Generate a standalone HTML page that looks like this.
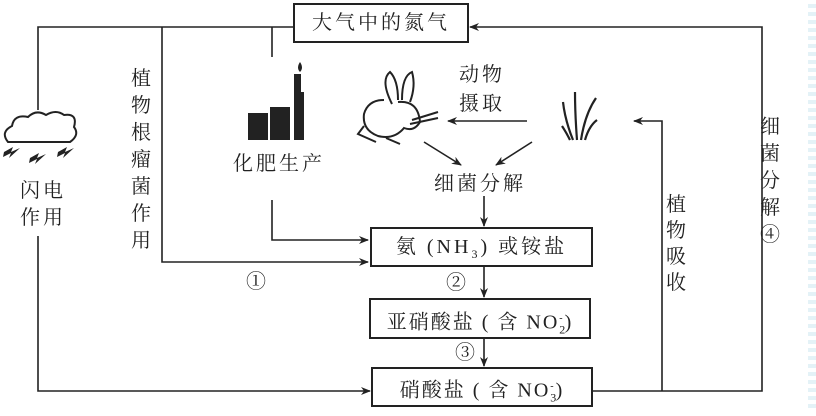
<!DOCTYPE html>
<html><head><meta charset="utf-8"><style>
body{margin:0;background:#fff;width:816px;height:411px;overflow:hidden;position:relative;font-family:"Liberation Serif","Noto Serif CJK SC","Noto Sans CJK SC",serif;color:#222}
.t{position:absolute;font-size:20px;line-height:20px;white-space:nowrap;letter-spacing:3px}
.v{position:absolute;font-size:20px;width:22px;text-align:center}
.box{position:absolute;border:2px solid #222;box-sizing:border-box;text-align:center;font-size:20px;background:#fff;letter-spacing:3px}
</style></head><body>
<svg width="816" height="411" style="position:absolute;left:0;top:0">
<defs><marker id="a" markerWidth="10" markerHeight="8" refX="9" refY="4" orient="auto" markerUnits="userSpaceOnUse"><path d="M0,0 L10,4 L0,8 L3,4z" fill="#222"/></marker></defs>
<g stroke="#222" stroke-width="1.6" fill="none">
<path d="M294,27 H38 V110"/>
<path d="M162,27 V262 H368" marker-end="url(#a)"/>
<path d="M272,27 V57"/>
<path d="M272,200 V240 H368" marker-end="url(#a)"/>
<path d="M38,236 V391 H370" marker-end="url(#a)"/>
<path d="M592,391 H762 V27 H470" marker-end="url(#a)"/>
<path d="M662,391 V121 H634" marker-end="url(#a)"/>
<path d="M527,121 H448" marker-end="url(#a)"/>
<path d="M424,142 L461,165" marker-end="url(#a)"/>
<path d="M532,142 L496,165" marker-end="url(#a)"/>
<path d="M484,196 V226" marker-end="url(#a)"/>
<path d="M484,266 V297" marker-end="url(#a)"/>
<path d="M484,338 V366" marker-end="url(#a)"/>
</g>
<path d="M8,142 q-8,-10 4,-16 q2,-12 16,-9 q8,-8 18,-2 q10,-6 18,0 q14,-2 10,12 q6,8 -4,15 z" fill="#fff" stroke="#222" stroke-width="2"/>
<g fill="#222"><path d="M4,152 l9,-5 l-2,5 l9,-4 l-11,10 l2,-5 l-8,4z"/><path d="M30,158 l9,-5 l-2,5 l9,-4 l-11,10 l2,-5 l-8,4z"/><path d="M58,152 l9,-5 l-2,5 l9,-4 l-11,10 l2,-5 l-8,4z"/></g>
<g fill="#222"><rect x="248" y="113" width="20" height="27"/><rect x="270" y="107" width="20" height="33"/><path d="M294,74 h7 v18 h3 v48 h-10z"/><path d="M300,62 q-4,6 0,10 q4,-4 0,-10z"/></g>
<g fill="none" stroke="#222" stroke-width="2">
<path d="M392,104 q-12,-24 -2,-32 q8,8 8,28"/><path d="M402,100 q0,-24 10,-28 q4,14 -2,30"/>
<path d="M398,102 q20,-2 22,20 q-6,10 -16,6 q-10,12 -26,8 q-16,-6 -14,-22 q4,-14 20,-14"/>
<path d="M364,126 l-6,8 l18,8"/><path d="M412,120 l26,-8 M410,124 l28,-6"/><path d="M386,138 l14,6"/>
</g>
<g fill="none" stroke="#222" stroke-width="2.2">
<path d="M573,140 q-8,-20 -10,-38"/><path d="M577,140 q-2,-26 -2,-48"/><path d="M581,140 q4,-26 15,-42"/><path d="M585,140 q4,-14 12,-20"/><path d="M570,140 q-4,-8 -8,-14"/>
</g>
</svg>
<div class="box" style="left:293px;top:3px;width:176px;height:40px;line-height:36px">大气中的氮气</div>
<div class="box" style="left:370px;top:227px;width:223px;height:40px;line-height:36px">氨 (NH<sub style="font-size:12px">3</sub>) 或铵盐</div>
<div class="box" style="left:369px;top:298px;width:222px;height:41px;line-height:37px;letter-spacing:2px">亚硝酸盐 ( 含 NO<sub style="font-size:12px">2</sub><sup style="font-size:10px;margin-left:-8px">-</sup>)</div>
<div class="box" style="left:371px;top:367px;width:222px;height:40px;line-height:36px;letter-spacing:2px">硝酸盐 ( 含 NO<sub style="font-size:12px">3</sub><sup style="font-size:10px;margin-left:-8px">-</sup>)</div>
<div class="t" style="left:233px;top:154px">化肥生产</div>
<div class="t" style="left:459px;top:65px">动物</div>
<div class="t" style="left:459px;top:94px">摄取</div>
<div class="t" style="left:434px;top:174px">细菌分解</div>
<div class="v" style="left:130px;top:66px;line-height:27px">植物根瘤菌作用</div>
<div class="t" style="left:20px;top:181px">闪电</div>
<div class="t" style="left:20px;top:208px">作用</div>
<div class="v" style="left:665px;top:192px;line-height:26px">植物吸收</div>
<div class="v" style="left:759px;top:114px;line-height:27px">细菌分解④</div>
<div class="t" style="left:246px;top:272px">①</div>
<div class="t" style="left:446px;top:273px">②</div>
<div class="t" style="left:455px;top:343px">③</div>
<div style="position:absolute;left:808px;top:0;width:8px;height:411px;background:repeating-linear-gradient(#fff 0 4px,#e4f2f7 4px 8px)"></div>
</body></html>
